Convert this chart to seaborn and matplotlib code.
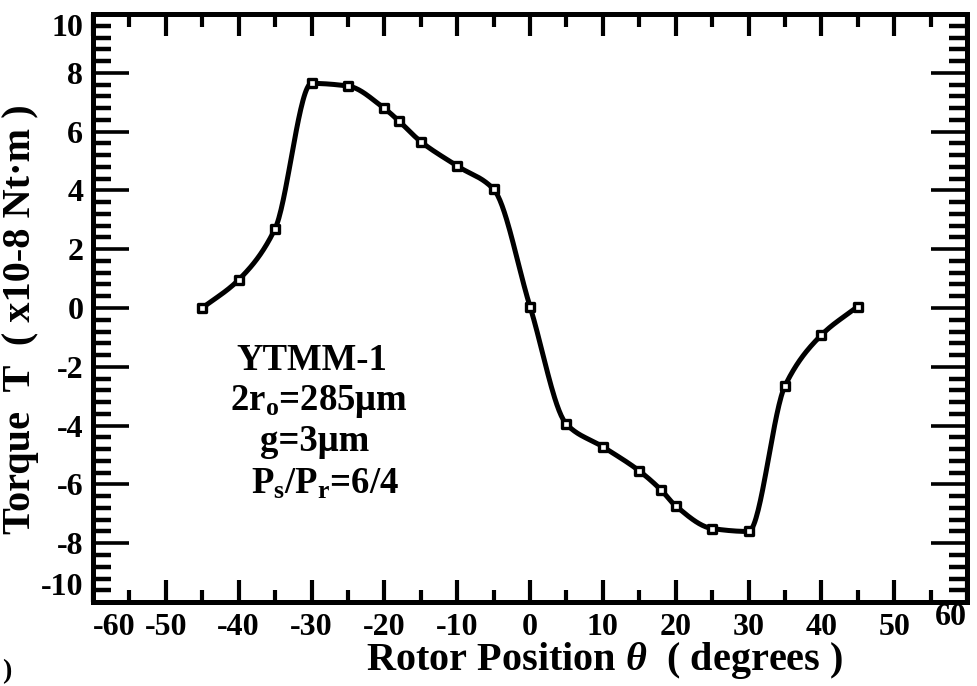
import numpy as np
import matplotlib
matplotlib.use("Agg")
import matplotlib.pyplot as plt
from matplotlib.ticker import MultipleLocator
from matplotlib.transforms import offset_copy
import pandas as pd
import seaborn as sns

# rotor position (degrees) and torque (x10^-8 Nt.m)
theta = [-45, -40, -35, -30, -25, -20, -18, -15, -10, -5, 0,
         5, 10, 15, 18, 20, 25, 30, 35, 40, 45]
torque = [0.0, 0.96, 2.7, 7.64, 7.55, 6.79, 6.36, 5.66, 4.83, 4.04, 0.05,
          -3.95, -4.72, -5.54, -6.19, -6.73, -7.5, -7.6, -2.65, -0.92, 0.05]

x_ticks = list(range(-60, 61, 10))
y_ticks = list(range(-10, 11, 2))

info_lines = ["YTMM-1", "2r$_{\\rm o}$=285\u03bcm", "g=3\u03bcm",
              "P$_{\\rm s}$/P$_{\\rm r}$=6/4"]


def pchip_curve(x, y, n=600):
    # monotone cubic curve through the measured points (only for the drawn line)
    x = np.asarray(x, float)
    y = np.asarray(y, float)
    h = np.diff(x)
    delta = np.diff(y) / h
    d = np.zeros_like(y)
    for k in range(1, len(x) - 1):
        if delta[k - 1] * delta[k] > 0:
            w1 = 2 * h[k] + h[k - 1]
            w2 = h[k] + 2 * h[k - 1]
            d[k] = (w1 + w2) / (w1 / delta[k - 1] + w2 / delta[k])
    d[0] = delta[0]
    d[-1] = delta[-1]
    xs = np.linspace(x[0], x[-1], n)
    idx = np.clip(np.searchsorted(x, xs) - 1, 0, len(x) - 2)
    t = (xs - x[idx]) / h[idx]
    h00 = 2 * t**3 - 3 * t**2 + 1
    h10 = t**3 - 2 * t**2 + t
    h01 = -2 * t**3 + 3 * t**2
    h11 = t**3 - t**2
    ys = (h00 * y[idx] + h10 * h[idx] * d[idx]
          + h01 * y[idx + 1] + h11 * h[idx] * d[idx + 1])
    return xs, ys


sns.set_theme(style="ticks")
plt.rcParams["font.family"] = ["Liberation Serif", "DejaVu Serif"]
plt.rcParams["font.weight"] = "bold"
plt.rcParams["axes.labelweight"] = "bold"
plt.rcParams["text.color"] = "black"
plt.rcParams["axes.labelcolor"] = "black"
plt.rcParams["mathtext.fontset"] = "custom"
plt.rcParams["mathtext.rm"] = "Liberation Serif:bold"
plt.rcParams["mathtext.it"] = "Liberation Serif:italic:bold"
plt.rcParams["mathtext.bf"] = "Liberation Serif:bold"
plt.rcParams["axes.unicode_minus"] = False

df = pd.DataFrame({"theta": theta, "torque": torque})
xs, ys = pchip_curve(df["theta"], df["torque"])
curve = pd.DataFrame({"theta": xs, "torque": ys})

fig = plt.figure(figsize=(9.77, 6.86), dpi=100)
ax = fig.add_axes([0.0952, 0.1224, 0.8946, 0.8572])

sns.lineplot(data=curve, x="theta", y="torque", ax=ax, color="black",
             linewidth=3.6, sort=False)
sns.scatterplot(data=df, x="theta", y="torque", ax=ax, marker="s", s=28,
                color="white", edgecolor="black", linewidth=2.4, zorder=3)

ax.set_xlim(-60, 60)
ax.set_ylim(-10, 10)
ax.set_xticks(x_ticks)
ax.set_yticks(y_ticks)
ax.set_xticklabels([str(v) for v in x_ticks])
ax.set_yticklabels([str(v) for v in y_ticks])
ax.xaxis.set_minor_locator(MultipleLocator(5))
ax.yaxis.set_minor_locator(MultipleLocator(0.4))

for side in ax.spines.values():
    side.set_linewidth(3.6)
    side.set_color("black")

ax.tick_params(axis="both", which="both", direction="in", top=True,
               right=True, color="black", labelsize=23, labelcolor="black")
ax.tick_params(axis="x", which="major", length=16, width=3, pad=8)
ax.tick_params(axis="x", which="minor", length=9, width=3)
ax.tick_params(axis="y", which="major", length=26, width=2.6, pad=7)
ax.tick_params(axis="y", which="minor", length=13, width=3.2)

# edge labels sit inside the frame like in the original
xl = ax.get_xticklabels()
xl[0].set_ha("left")
xl[-1].set_ha("right")
xl[-1].set_transform(offset_copy(xl[-1].get_transform(), fig=fig, y=7, units="points"))
yl = ax.get_yticklabels()
yl[0].set_va("bottom")
yl[-1].set_va("top")

ax.set_xlabel("Rotor Position $\\theta$  ( degrees )", fontsize=29,
              fontweight="bold", va="center")
ax.xaxis.set_label_coords(0.585, -0.099)
ax.set_ylabel("Torque  T  ( x10-8 Nt\u00b7m )", fontsize=29,
              fontweight="bold", va="center")
ax.yaxis.set_label_coords(-0.0835, 0.481)

info_pos = [(0.250, 0.3946), (0.258, 0.3265), (0.254, 0.2568), (0.266, 0.1837)]
for line, (px, py) in zip(info_lines, info_pos):
    ax.text(px, py, line, transform=ax.transAxes, ha="center",
            va="baseline", fontsize=26.5, fontweight="bold", color="black")

fig.text(0.002, 0.012, ")", fontsize=20, fontweight="bold", color="black")

fig.savefig("out.png", dpi=100)
